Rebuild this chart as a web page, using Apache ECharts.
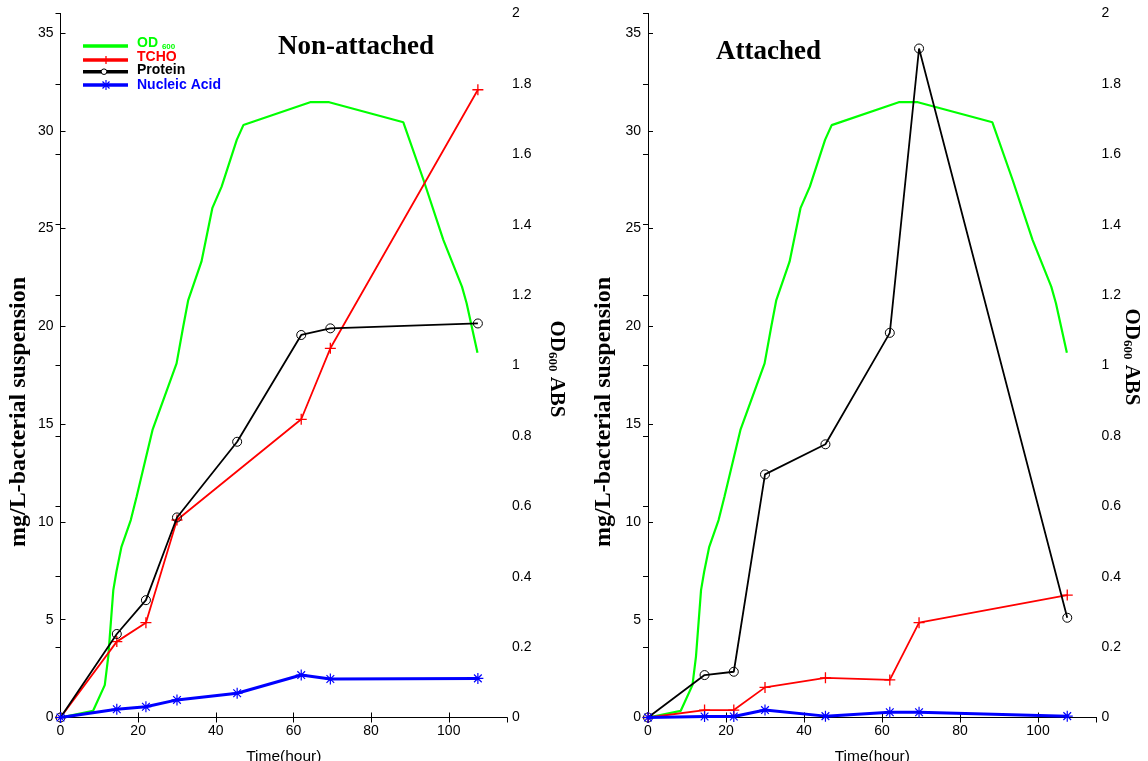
<!DOCTYPE html>
<html>
<head>
<meta charset="utf-8">
<script src="https://cdn.jsdelivr.net/npm/echarts@6/dist/echarts.min.js"></script>
<style>
  html, body { margin: 0; padding: 0; background: #fff; }
  #chart { width: 1148px; height: 761px; }
</style>
</head>
<body>
<div id="chart"></div>
<script>
// Sampling times (hours)
const hours = [0, 14.5, 22, 30, 45.5, 62, 69.5, 107.5];
const tchoHoursNon = [0, 14.5, 22, 30, 62, 69.5, 107.5];

// Non-attached cells (mg/L bacterial suspension)
const tchoNon = [0, 3.88, 4.85, 10.1, 15.25, 18.88, 32.1];
const proteinNon = [0, 4.27, 6.0, 10.23, 14.1, 19.56, 19.9, 20.15];
const nucleicNon = [0, 0.42, 0.55, 0.9, 1.24, 2.17, 1.97, 2.0];

// Attached cells (mg/L bacterial suspension)
const tchoAtt = [0, 0.38, 0.38, 1.54, 2.03, 1.92, 4.85, 6.26];
const proteinAtt = [0, 2.17, 2.34, 12.43, 13.97, 19.67, 34.21, 5.1];
const nucleicAtt = [0, 0.05, 0.05, 0.38, 0.07, 0.27, 0.27, 0.07];

// Growth curve, OD600 absorbance
const odHours = [0, 8.4, 11.4, 12.3, 13.6, 14.4, 15.7, 18.1, 19.6, 23.7, 29.9, 31.6, 32.9, 36.3,
                 39.1, 41.5, 45.4, 47.1, 64.3, 69.2, 88.3, 93.5, 98.6, 103.4, 104.6, 107.4];
const odValues = [0, 0.019, 0.092, 0.173, 0.362, 0.414, 0.485, 0.561, 0.627, 0.817, 1.006, 1.11, 1.186, 1.295,
                  1.447, 1.508, 1.641, 1.683, 1.748, 1.748, 1.691, 1.527, 1.357, 1.224, 1.177, 1.036];

// Axis ranges and ticks
const timeRange = [0, 115];
const timeStep = 20;
const massRange = [0, 36];
const massStep = 5;
const odRange = [0, 2];
const odStep = 0.2;

const panelTitles = ['Non-attached', 'Attached'];
const seriesNames = ['OD600', 'TCHO', 'Protein', 'Nucleic Acid'];

const GREEN = '#00ff00', RED = '#ff0000', BLACK = '#000000', BLUE = '#0000ff';
const SANS = 'Liberation Sans, Arial, sans-serif';
const SERIF = 'Liberation Serif, Times New Roman, serif';

const PLUS = 'path://M0,5 L10,5 M5,0 L5,10';
const ASTERISK = 'path://M5,0 L5,10 M0,5 L10,5 M1.5,1.5 L8.5,8.5 M1.5,8.5 L8.5,1.5';

const zip = (xs, ys) => xs.map((x, i) => [x, ys[i]]);

const grids = [
  { left: 60.5, top: 13.5, width: 446.5, height: 704, outerBoundsMode: 'none', containLabel: false },
  { left: 648, top: 13.5, width: 448.5, height: 704, outerBoundsMode: 'none', containLabel: false }
];

const tickStyle = { inside: true, length: 5, lineStyle: { color: BLACK, width: 1 } };
const lineAxis = { show: true, lineStyle: { color: BLACK, width: 1 } };
const labelStyle = { color: BLACK, fontSize: 14, fontFamily: SANS };

const xAxes = [], yAxes = [], series = [];

grids.forEach((g, gi) => {
  xAxes.push({
    gridIndex: gi, type: 'value', position: 'bottom',
    min: timeRange[0], max: timeRange[1], interval: timeStep,
    axisLine: lineAxis, axisTick: tickStyle, splitLine: { show: false },
    axisLabel: Object.assign({ margin: 7, showMaxLabel: false }, labelStyle),
    name: 'Time(hour)', nameLocation: 'middle', nameGap: 31,
    nameTextStyle: { color: BLACK, fontSize: 15.5, fontFamily: SANS }
  });
  xAxes.push({
    gridIndex: gi, type: 'value', position: 'top',
    min: timeRange[0], max: timeRange[1], interval: timeStep,
    axisLine: lineAxis, axisTick: tickStyle, splitLine: { show: false },
    axisLabel: { show: false }
  });
  yAxes.push({
    gridIndex: gi, type: 'value', position: 'left',
    min: massRange[0], max: massRange[1], interval: massStep,
    axisLine: lineAxis, axisTick: tickStyle, splitLine: { show: false },
    axisLabel: Object.assign({ margin: 7, showMaxLabel: false }, labelStyle)
  });
  yAxes.push({
    gridIndex: gi, type: 'value', position: 'right',
    min: odRange[0], max: odRange[1], interval: odStep,
    axisLine: lineAxis, axisTick: tickStyle, splitLine: { show: false },
    axisLabel: Object.assign({ margin: 5 }, labelStyle)
  });
});

function addPanel(gi, tchoX, tcho, protein, nucleic) {
  const xi = gi * 2, yL = gi * 2, yR = gi * 2 + 1;
  series.push({
    name: seriesNames[0], type: 'line', xAxisIndex: xi, yAxisIndex: yR,
    data: zip(odHours, odValues), symbol: 'none',
    lineStyle: { color: GREEN, width: 2.2 }, itemStyle: { color: GREEN }, z: 2
  });
  series.push({
    name: seriesNames[1], type: 'line', xAxisIndex: xi, yAxisIndex: yL,
    data: zip(tchoX, tcho), symbol: PLUS, symbolSize: 11, showAllSymbol: true,
    lineStyle: { color: RED, width: 1.8 },
    itemStyle: { color: RED, borderColor: RED, borderWidth: 1.3 }, z: 3
  });
  series.push({
    name: seriesNames[2], type: 'line', xAxisIndex: xi, yAxisIndex: yL,
    data: zip(hours, protein), symbol: 'circle', symbolSize: 9, showAllSymbol: true,
    lineStyle: { color: BLACK, width: 1.8 },
    itemStyle: { color: 'rgba(0,0,0,0)', borderColor: BLACK, borderWidth: 1 }, z: 4
  });
  series.push({
    name: seriesNames[3], type: 'line', xAxisIndex: xi, yAxisIndex: yL,
    data: zip(hours, nucleic), symbol: ASTERISK, symbolSize: 11, showAllSymbol: true,
    lineStyle: { color: BLUE, width: 3 },
    itemStyle: { color: BLUE, borderColor: BLUE, borderWidth: 1.2 }, z: 5
  });
}

addPanel(0, tchoHoursNon, tchoNon, proteinNon, nucleicNon);
addPanel(1, hours, tchoAtt, proteinAtt, nucleicAtt);

const massName = 'mg/L-bacterial suspension';
const titleFont = 'bold 27px ' + SERIF;
const nameFont = 'bold 24px ' + SERIF;

function odName(x, y) {
  return {
    type: 'text', x: x, y: y, rotation: -Math.PI / 2,
    style: {
      text: '{a|OD}{s|600}{a| ABS}',
      align: 'center', verticalAlign: 'middle', fill: BLACK,
      rich: {
        a: { fontSize: 21, fontWeight: 'bold', fontFamily: SERIF, fill: BLACK },
        s: { fontSize: 13, fontWeight: 'bold', fontFamily: SERIF, fill: BLACK, verticalAlign: 'bottom', padding: [8, 0, 0, 0] }
      }
    }
  };
}

// Legend key drawn as line samples with the series markers
function seg(x1, y1, x2, y2, color, w) {
  return { type: 'line', shape: { x1: x1, y1: y1, x2: x2, y2: y2 }, style: { stroke: color, lineWidth: w }, z: 20 };
}
function legendRow(y, color, marker) {
  const els = [seg(83, y, 128, y, color, 3.5)];
  const cx = 106, r = 4;
  if (marker === 'plus') {
    els.push(seg(cx - r, y, cx + r, y, color, 1.3), seg(cx, y - r, cx, y + r, color, 1.3));
  } else if (marker === 'circle') {
    els.push({ type: 'circle', shape: { cx: cx - 2, cy: y, r: 2.8 }, style: { fill: '#fff', stroke: color, lineWidth: 1 }, z: 21 });
  } else if (marker === 'star') {
    const s = 5;
    els.push(seg(cx, y - s, cx, y + s, color, 1.2), seg(cx - s, y, cx + s, y, color, 1.2),
             seg(cx - 3.5, y - 3.5, cx + 3.5, y + 3.5, color, 1.2), seg(cx - 3.5, y + 3.5, cx + 3.5, y - 3.5, color, 1.2));
  }
  return els;
}
const legendFont = { fontFamily: SANS, fontWeight: 'bold', fontSize: 14 };
function legendText(y, text, color, rich) {
  const st = Object.assign({ text: text, fill: color, verticalAlign: 'middle' }, legendFont);
  if (rich) st.rich = rich;
  return { type: 'text', x: 137, y: y, style: st, z: 20 };
}

const legendEls = [].concat(
  legendRow(46, GREEN, null),
  legendRow(60, RED, 'plus'),
  legendRow(71.7, BLACK, 'circle'),
  legendRow(85, BLUE, 'star'),
  [
    legendText(43.5, '{a|OD} {s|600}', GREEN, {
      a: Object.assign({ fill: GREEN }, legendFont),
      s: { fill: GREEN, fontFamily: SANS, fontWeight: 'bold', fontSize: 8, verticalAlign: 'bottom', padding: [6, 0, 0, 0] }
    }),
    legendText(57, seriesNames[1], RED),
    legendText(70.5, seriesNames[2], BLACK),
    legendText(85.3, seriesNames[3], BLUE)
  ]
);

const option = {
  animation: false,
  backgroundColor: '#ffffff',
  grid: grids,
  xAxis: xAxes,
  yAxis: yAxes,
  series: series,
  graphic: [
    { type: 'text', x: 278, y: 47, style: { text: panelTitles[0], font: titleFont, fill: BLACK, verticalAlign: 'middle' } },
    { type: 'text', x: 716, y: 52, style: { text: panelTitles[1], font: titleFont, fill: BLACK, verticalAlign: 'middle' } },
    { type: 'text', x: 19, y: 412, rotation: Math.PI / 2,
      style: { text: massName, font: nameFont, fill: BLACK, align: 'center', verticalAlign: 'middle' } },
    { type: 'text', x: 604, y: 412, rotation: Math.PI / 2,
      style: { text: massName, font: nameFont, fill: BLACK, align: 'center', verticalAlign: 'middle' } },
    odName(556, 369),
    odName(1131, 357)
  ].concat(legendEls)
};

const chart = echarts.init(document.getElementById('chart'), null, { renderer: 'canvas' });
chart.setOption(option);
</script>
</body>
</html>
